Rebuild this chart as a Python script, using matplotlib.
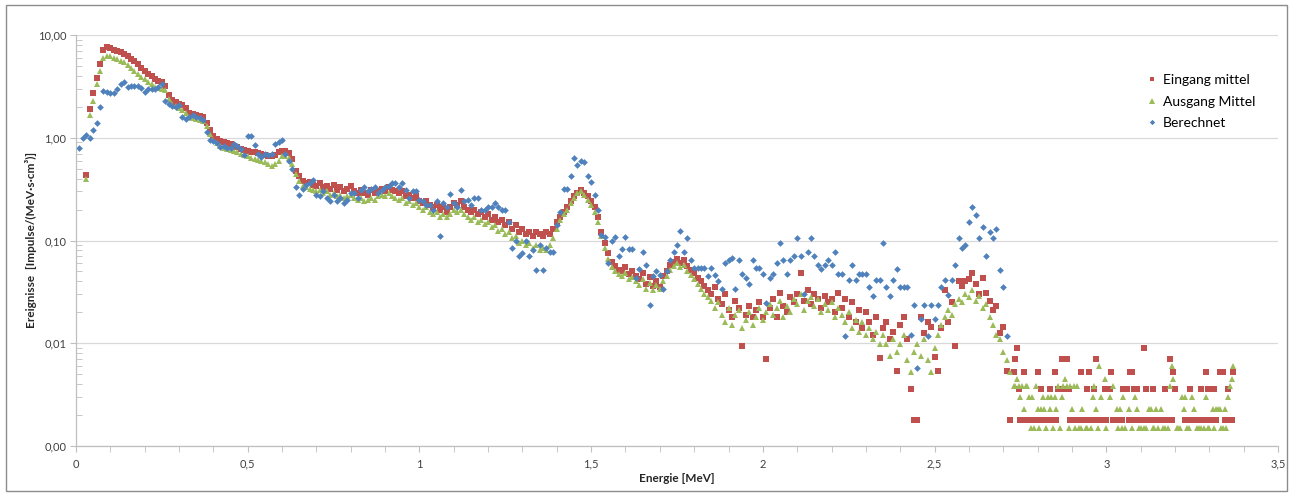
import numpy as np
import matplotlib.pyplot as plt
from matplotlib.ticker import FixedLocator, FuncFormatter, LogLocator, MultipleLocator
from matplotlib.patches import Rectangle

plt.rcParams['font.family'] = ['Lato', 'DejaVu Sans']

# channel grids [MeV]
e_start_meas = 0.03   # measured spectra, main part
e_step = 0.01
e_start_tail = 2.73   # measured spectra, high-energy tail (finer channels)
e_step_tail = 0.005
e_start_calc = 0.01   # calculated spectrum

nan = np.nan

# Eingang mittel, 0.03 .. 2.72 MeV
eingang = [
    0.43, 1.9, 2.7, 3.8, 5.2, 7.1, 7.6, 7.4, 7.2, 7.0,
    6.8, 6.6, 6.3, 5.9, 5.6, 5.2, 4.8, 4.5, 4.2, 3.95,
    3.75, 3.6, 3.5, 3.2, 2.6, 2.35, 2.25, 2.15, 2.08, 1.95,
    1.75, 1.7, 1.65, 1.62, 1.58, 1.4, 1.18, 1.05, 0.98, 0.93,
    0.9, 0.88, 0.86, 0.83, 0.81, 0.78, 0.76, 0.74, 0.73, 0.72,
    0.71, 0.69, 0.68, 0.66, 0.67, 0.68, 0.72, 0.75, 0.74, 0.71,
    0.62, 0.48, 0.42, 0.38, 0.36, 0.37, 0.35, 0.34, 0.36, 0.33,
    0.34, 0.32, 0.35, 0.31, 0.33, 0.30, 0.32, 0.34, 0.30, 0.29,
    0.31, 0.29, 0.28, 0.31, 0.29, 0.30, 0.32, 0.30, 0.33, 0.31,
    0.30, 0.29, 0.30, 0.27, 0.28, 0.26, 0.27, 0.24, 0.23, 0.24,
    0.22, 0.21, 0.22, 0.20, 0.21, 0.19, 0.21, 0.23, 0.22, 0.24,
    0.21, 0.20, 0.19, 0.20, 0.18, 0.19, 0.17, 0.18, 0.16, 0.17,
    0.15, 0.16, 0.14, 0.15, 0.13, 0.14, 0.12, 0.13, 0.115, 0.12,
    0.11, 0.12, 0.115, 0.11, 0.12, 0.115, 0.13, 0.15, 0.17, 0.19,
    0.21, 0.24, 0.27, 0.29, 0.31, 0.29, 0.27, 0.24, 0.21, 0.17,
    0.12, 0.095, 0.075, 0.062, 0.056, 0.052, 0.05, 0.055, 0.047, 0.05,
    0.045, 0.042, 0.048, 0.038, 0.044, 0.036, 0.04, 0.035, 0.045, 0.05,
    0.058, 0.062, 0.066, 0.06, 0.064, 0.056, 0.052, 0.048, 0.043, 0.04,
    0.036, 0.033, 0.03, 0.035, 0.027, 0.024, 0.03, 0.021, 0.018, 0.026,
    0.022, 0.0093, 0.019, 0.023, 0.018, 0.021, 0.025, 0.018, 0.0071, 0.022,
    0.027, 0.018, 0.031, 0.023, 0.02, 0.028, 0.025, 0.03, 0.048, 0.026,
    0.033, 0.024, 0.03, 0.027, 0.022, 0.029, 0.025, 0.027, 0.02, 0.031,
    0.022, 0.027, 0.018, 0.025, 0.016, 0.021, 0.014, 0.02, 0.016, 0.012,
    0.018, 0.0072, 0.014, 0.016, 0.011, 0.013, 0.0054, 0.015, 0.018, 0.011,
    0.0036, 0.0018, 0.0018, 0.018, 0.0125, 0.016, 0.0145, 0.0074, 0.0054, 0.014,
    0.033, 0.016, 0.025, 0.0093, 0.04, 0.036, 0.04, 0.042, 0.048, 0.038,
    0.03, 0.043, 0.031, 0.026, 0.021, 0.023, 0.0125, 0.0145, 0.0054, 0.0018,
]

# Eingang mittel, 2.73 .. 3.37 MeV
eingang_tail = [
    0.0053, 0.0071, 0.0089, 0.0036, 0.0018, 0.0018, 0.0053, 0.0018, 0.0018, 0.0018,
    0.0018, 0.0018, 0.0018, 0.0018, 0.0053, 0.0018, 0.0036, 0.0018, 0.0018, 0.0018,
    0.0018, 0.0036, 0.0018, 0.0018, 0.0053, 0.0018, 0.0036, nan, 0.0071, 0.0036,
    nan, 0.0071, 0.0036, 0.0018, 0.0018, 0.0018, 0.0018, 0.0018, 0.0018, 0.0053,
    0.0018, 0.0018, 0.0018, 0.0036, 0.0053, 0.0018, 0.0018, 0.0036, 0.0071, nan,
    0.0018, 0.0018, 0.0018, 0.0036, 0.0018, nan, 0.0036, 0.0053, 0.0018, 0.0018,
    0.0018, 0.0018, 0.0018, 0.0018, 0.0036, nan, 0.0036, 0.0018, 0.0053, 0.0053,
    0.0036, 0.0018, 0.0036, 0.0018, 0.0018, 0.0018, 0.0089, 0.0036, 0.0018, 0.0018,
    0.0018, 0.0036, 0.0018, 0.0018, 0.0018, 0.0018, 0.0018, 0.0018, 0.0036, 0.0018,
    0.0018, 0.0071, 0.0018, 0.0053, 0.0036, nan, nan, nan, nan, nan,
    0.0018, 0.0018, 0.0018, 0.0036, 0.0018, 0.0018, 0.0018, 0.0018, 0.0018, 0.0036,
    0.0018, 0.0018, 0.0053, 0.0036, 0.0018, 0.0036, 0.0018, 0.0036, 0.0018, nan,
    0.0053, nan, 0.0053, 0.0018, 0.0018, 0.0036, 0.0018, 0.0018, 0.0053,
]

# Ausgang Mittel, 0.03 .. 2.72 MeV
ausgang = [
    0.40, 1.65, 2.3, 3.3, 4.5, 6.0, 6.3, 6.2, 6.0, 5.8,
    5.6, 5.4, 5.1, 4.8, 4.5, 4.2, 3.9, 3.7, 3.5, 3.3,
    3.15, 3.05, 3.0, 2.9, 2.4, 2.15, 2.05, 1.95, 1.88, 1.75,
    1.6, 1.55, 1.52, 1.5, 1.45, 1.3, 1.08, 0.95, 0.88, 0.84,
    0.8, 0.78, 0.76, 0.74, 0.72, 0.7, 0.68, 0.66, 0.64, 0.62,
    0.61, 0.6, 0.58, 0.55, 0.53, 0.56, 0.6, 0.66, 0.67, 0.64,
    0.56, 0.44, 0.38, 0.34, 0.33, 0.32, 0.31, 0.3, 0.31, 0.29,
    0.3, 0.28, 0.29, 0.27, 0.28, 0.26, 0.27, 0.28, 0.26, 0.25,
    0.26, 0.24, 0.25, 0.26, 0.25, 0.27, 0.28, 0.27, 0.29, 0.27,
    0.26, 0.25, 0.26, 0.23, 0.24, 0.22, 0.23, 0.21, 0.2, 0.21,
    0.19, 0.18, 0.19, 0.17, 0.18, 0.17, 0.18, 0.2, 0.19, 0.2,
    0.18, 0.17, 0.16, 0.17, 0.15, 0.16, 0.145, 0.15, 0.135, 0.14,
    0.125, 0.13, 0.115, 0.12, 0.105, 0.11, 0.095, 0.1, 0.09, 0.095,
    0.085, 0.09, 0.08, 0.085, 0.08, 0.09, 0.105, 0.13, 0.16, 0.18,
    0.2, 0.23, 0.26, 0.29, 0.3, 0.28, 0.25, 0.22, 0.19, 0.15,
    0.11, 0.085, 0.066, 0.055, 0.05, 0.047, 0.045, 0.048, 0.042, 0.044,
    0.04, 0.037, 0.042, 0.034, 0.039, 0.033, 0.037, 0.034, 0.04, 0.045,
    0.052, 0.057, 0.06, 0.055, 0.058, 0.05, 0.046, 0.042, 0.038, 0.034,
    0.03, 0.028, 0.026, 0.022, 0.025, 0.019, 0.016, 0.022, 0.015, 0.019,
    0.021, 0.014, 0.017, 0.02, 0.015, 0.018, 0.022, 0.017, 0.02, 0.024,
    0.019, 0.022, 0.026, 0.018, 0.023, 0.02, 0.027, 0.024, 0.03, 0.021,
    0.026, 0.028, 0.023, 0.027, 0.02, 0.024, 0.021, 0.025, 0.018, 0.022,
    0.019, 0.016, 0.02, 0.014, 0.017, 0.013, 0.016, 0.012, 0.014, 0.011,
    0.013, 0.0098, 0.012, 0.0098, 0.0075, 0.011, 0.0083, 0.0098, 0.012, 0.0068,
    0.0053, 0.0083, 0.0098, 0.0075, 0.011, 0.0068, 0.0053, 0.009, 0.012, 0.015,
    0.018, 0.021, 0.019, 0.024, 0.027, 0.025, 0.03, 0.028, 0.033, 0.026,
    0.029, 0.022, 0.024, 0.018, 0.015, 0.012, 0.011, 0.0083, 0.0068, 0.0053,
]

# Ausgang Mittel, 2.73 .. 3.37 MeV
ausgang_tail = [
    0.0038, 0.0038, 0.0045, 0.0038, 0.003, 0.0038, 0.0023, 0.0038, 0.0038, 0.003,
    0.0015, 0.003, 0.0015, 0.0038, 0.0023, 0.0015, 0.0023, 0.003, 0.0023, 0.0015,
    0.003, 0.0023, 0.003, 0.0015, 0.003, 0.0023, 0.0038, 0.0015, 0.003, 0.0038,
    0.0045, 0.0038, 0.0015, 0.0038, 0.0023, 0.0038, 0.0015, 0.0038, 0.0015, 0.0015,
    0.0023, nan, 0.0015, 0.0015, nan, 0.0015, 0.003, 0.0038, 0.0023, 0.0015,
    0.006, 0.003, nan, 0.0045, 0.0015, nan, 0.003, nan, 0.0038, nan,
    0.0023, 0.0015, 0.0023, 0.0015, 0.003, 0.0015, nan, 0.0023, nan, 0.0015,
    nan, 0.003, 0.0023, 0.0015, 0.0015, nan, 0.0015, 0.0015, nan, 0.0023,
    0.0023, 0.0015, 0.0015, 0.0023, 0.0015, nan, 0.0023, 0.0015, 0.0015, nan,
    0.0015, 0.0038, 0.006, 0.0045, nan, 0.0015, 0.0015, 0.0015, 0.003, 0.0023,
    0.003, 0.0015, 0.0015, nan, 0.003, 0.0023, nan, 0.0015, 0.0015, 0.0015,
    nan, 0.0015, 0.003, 0.0015, 0.0015, nan, 0.0023, 0.0015, 0.0023, 0.0023,
    0.0023, 0.0015, 0.0015, 0.0023, 0.0015, 0.003, 0.0038, 0.0045, 0.006,
]

# Berechnet, 0.01 .. 2.71 MeV
berechnet = [
    0.79, 1.0, 1.06, 0.99, 1.18, 1.4, 1.98, 2.86, 2.8, 2.75,
    2.75, 2.95, 3.3, 3.5, 3.1, 3.2, 3.2, 3.2, 3.05, 2.8,
    2.95, 3.0, 3.0, 3.1, 3.3, 2.3, 2.15, 2.05, 2.0, 2.1,
    1.6, 1.52, 1.6, 1.65, 1.6, 1.55, 1.48, 1.15, 0.95, 0.92,
    0.88, 0.82, 0.84, 0.8, 0.8, 0.87, 0.84, 0.78, 0.68, 1.04,
    1.05, 0.85, 0.7, 0.65, 0.7, 0.68, 0.7, 0.87, 0.9, 0.95,
    0.7, 0.6, 0.5, 0.33, 0.28, 0.32, 0.35, 0.36, 0.39, 0.28,
    0.27, 0.3, 0.26, 0.24, 0.28, 0.24, 0.26, 0.23, 0.25, 0.29,
    0.29, 0.26, 0.31, 0.33, 0.3, 0.32, 0.33, 0.29, 0.31, 0.33,
    0.34, 0.36, 0.36, 0.33, 0.36, 0.31, 0.26, 0.3, 0.3, 0.25,
    0.24, 0.22, 0.22, 0.2, 0.24, 0.11, 0.23, 0.21, 0.285, 0.23,
    0.21, 0.31, 0.24, 0.25, 0.22, 0.26, 0.26, 0.2, 0.2, 0.21,
    0.21, 0.23, 0.21, 0.2, 0.2, 0.15, 0.084, 0.1, 0.07, 0.075,
    0.1, 0.07, 0.08, 0.052, 0.09, 0.052, 0.084, 0.077, 0.077, 0.14,
    0.19, 0.32, 0.32, 0.42, 0.63, 0.54, 0.6, 0.58, 0.42, 0.37,
    0.28, 0.2, 0.113, 0.108, 0.06, 0.1, 0.108, 0.07, 0.083, 0.108,
    0.083, 0.083, 0.043, 0.053, 0.077, 0.058, 0.0236, 0.045, 0.05, 0.046,
    0.034, 0.05, 0.065, 0.078, 0.09, 0.124, 0.078, 0.105, 0.065, 0.0545,
    0.0545, 0.0545, 0.0545, 0.045, 0.0545, 0.046, 0.04, 0.034, 0.06, 0.065,
    0.067, 0.034, 0.065, 0.047, 0.043, 0.038, 0.065, 0.0545, 0.0545, 0.047,
    0.0246, 0.043, 0.047, 0.06, 0.094, 0.065, 0.047, 0.065, 0.071, 0.105,
    0.071, 0.03, 0.077, 0.105, 0.071, 0.058, 0.0527, 0.058, 0.065, 0.058,
    0.077, 0.047, 0.047, 0.0118, 0.041, 0.058, 0.041, 0.047, 0.047, 0.047,
    0.0356, 0.029, 0.041, 0.041, 0.094, 0.0356, 0.029, 0.041, 0.0527, 0.0356,
    0.0356, 0.0356, 0.012, 0.0236, 0.0058, 0.0174, 0.0236, 0.0117, 0.0236, 0.0174,
    0.0236, 0.0356, 0.041, 0.0294, 0.041, 0.058, 0.105, 0.084, 0.09, 0.152,
    0.21, 0.177, 0.105, 0.135, 0.07, 0.122, 0.105, 0.128, 0.052, 0.0356, 0.0117,
]

series_names = ['Eingang mittel', 'Ausgang Mittel', 'Berechnet']
colors = ['#C0504D', '#9BBB59', '#4F81BD']

e_meas = np.round(e_start_meas + e_step * np.arange(len(eingang)), 3)
e_tail = np.round(e_start_tail + e_step_tail * np.arange(len(eingang_tail)), 3)
e_calc = np.round(e_start_calc + e_step * np.arange(len(berechnet)), 3)

x_in = np.concatenate([e_meas, e_tail])
y_in = np.concatenate([eingang, eingang_tail])
x_out = np.concatenate([e_meas, e_tail])
y_out = np.concatenate([ausgang, ausgang_tail])

W, H = 1292, 496
fig = plt.figure(figsize=(W / 100, H / 100), dpi=100)
ax = fig.add_axes([76 / W, 50 / H, 1202 / W, 411 / H])

ax.plot(x_in, y_in, ls='none', marker='s', ms=4.1, mew=0,
        color=colors[0], label=series_names[0])
ax.plot(x_out, y_out, ls='none', marker='^', ms=4.6, mew=0,
        color=colors[1], label=series_names[1])
ax.plot(e_calc, berechnet, ls='none', marker='D', ms=3.4, mew=0,
        color=colors[2], label=series_names[2])

ax.set_yscale('log')
ax.set_ylim(0.001, 10)
ax.set_xlim(0, 3.5)

ax.yaxis.set_major_locator(FixedLocator([0.001, 0.01, 0.1, 1, 10]))
ax.yaxis.set_major_formatter(FuncFormatter(lambda v, p: f'{v:.2f}'.replace('.', ',')))
ax.yaxis.set_minor_locator(LogLocator(base=10, subs=np.arange(2, 10)))
ax.yaxis.set_minor_formatter(FuncFormatter(lambda v, p: ''))

ax.xaxis.set_major_locator(MultipleLocator(0.5))
ax.xaxis.set_major_formatter(FuncFormatter(lambda v, p: f'{v:g}'.replace('.', ',')))
ax.xaxis.set_minor_locator(MultipleLocator(0.1))

ax.grid(True, axis='y', which='major', color='#D9D9D9', lw=0.9)
ax.set_axisbelow(True)

for side in ['top', 'right']:
    ax.spines[side].set_visible(False)
for side in ['left', 'bottom']:
    ax.spines[side].set_color('#BFBFBF')
    ax.spines[side].set_linewidth(0.9)

ax.tick_params(axis='both', which='both', colors='#BFBFBF', labelcolor='#404040', labelsize=8)
ax.tick_params(axis='y', which='major', direction='out', length=4, pad=3)
ax.tick_params(axis='y', which='minor', direction='in', length=4)
ax.tick_params(axis='x', which='both', direction='out', length=4, pad=5)

fig.text(677 / W, 1 - 479 / H, 'Energie [MeV]', ha='center', va='center',
         fontsize=8.5, fontweight='bold', color='#262626')
fig.text(31 / W, 1 - 240 / H, 'Ereignisse  [Impulse/(MeV·s·cm³)]', ha='center', va='center',
         rotation=90, fontsize=8.5, fontweight='bold', color='#262626')

ax.legend(loc='upper left', bbox_to_anchor=(1147 / W, 1 - 74 / H), bbox_transform=fig.transFigure,
          frameon=False, fontsize=10, handlelength=0.7, handletextpad=0.45,
          labelspacing=0.69, borderaxespad=0, borderpad=0, markerscale=0.8)

fig.patches.append(Rectangle((6 / W, 5 / H), 1281 / W, 486 / H, transform=fig.transFigure,
                             fill=False, ec='#8C8C8C', lw=1))

fig.savefig('out.png', dpi=100)
